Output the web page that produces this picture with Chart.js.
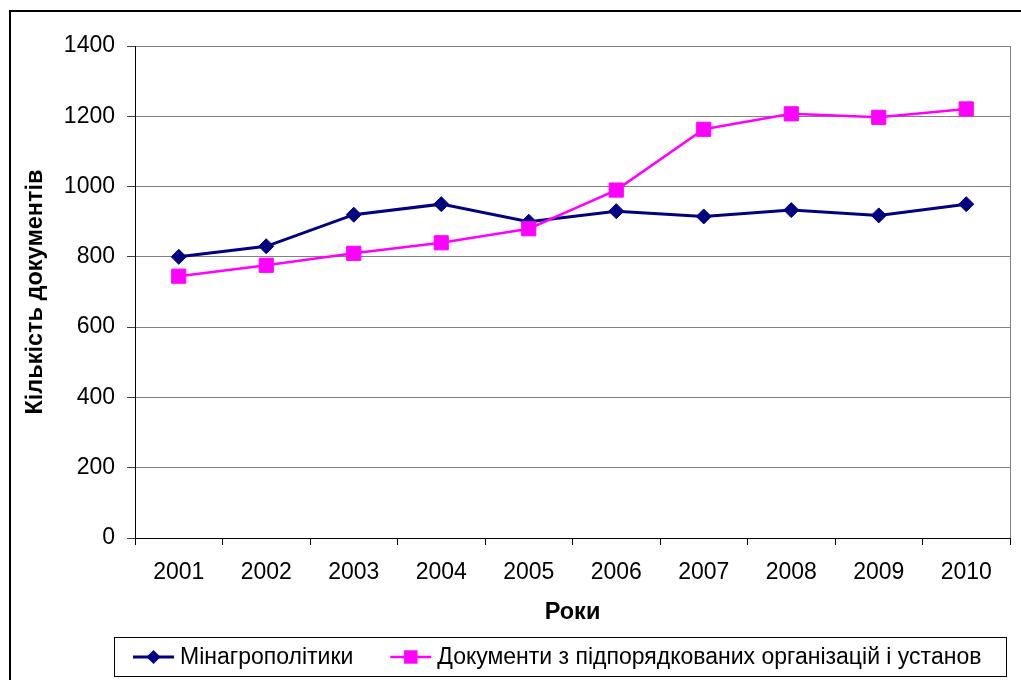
<!DOCTYPE html>
<html>
<head>
<meta charset="utf-8">
<script src="https://cdn.jsdelivr.net/npm/chart.js@4.4.1/dist/chart.umd.min.js"></script>
<style>
  html, body { margin: 0; padding: 0; background: #fff; }
  #wrap { width: 1021px; height: 680px; position: relative; }
</style>
</head>
<body>
<div id="wrap"><canvas id="c" width="1021" height="680"></canvas></div>
<script>
const years = ['2001', '2002', '2003', '2004', '2005', '2006', '2007', '2008', '2009', '2010'];
const minagroValues = [800, 830, 920, 950, 900, 930, 915, 933, 918, 950];
const pidporyadValues = [745, 776, 810, 840, 880, 990, 1163, 1207, 1197, 1221];
const seriesNames = ['Мінагрополітики', 'Документи з підпорядкованих організацій і установ'];
const yTitle = 'Кількість документів';
const xTitle = 'Роки';

const FONT = '"Liberation Sans", Arial, sans-serif';

const frameAndBorder = {
  id: 'frameAndBorder',
  beforeDraw(chart) {
    const ctx = chart.ctx;
    ctx.save();
    ctx.fillStyle = '#fff';
    ctx.fillRect(0, 0, chart.width, chart.height);
    ctx.strokeStyle = '#000';
    ctx.lineWidth = 2;
    ctx.strokeRect(10, 11, 1100, 1000);
    ctx.restore();
  },
  beforeDatasetsDraw(chart) {
    const {ctx, chartArea} = chart;
    ctx.save();
    ctx.strokeStyle = '#808080';
    ctx.lineWidth = 1;
    ctx.beginPath();
    ctx.moveTo(Math.round(chartArea.right) + 0.5, chartArea.top);
    ctx.lineTo(Math.round(chartArea.right) + 0.5, chartArea.bottom);
    ctx.stroke();
    ctx.restore();
  }
};

const boxLegend = {
  id: 'boxLegend',
  afterDraw(chart) {
    const ctx = chart.ctx;
    ctx.save();
    ctx.strokeStyle = '#000';
    ctx.lineWidth = 1;
    ctx.strokeRect(114.5, 637.5, 892, 39);
    const cy = 657;
    ctx.font = '23px ' + FONT;
    ctx.textBaseline = 'middle';
    let x = 133;
    chart.data.datasets.forEach((ds) => {
      const lineLen = 41;
      ctx.strokeStyle = ds.borderColor;
      ctx.lineWidth = ds.borderWidth;
      ctx.beginPath();
      ctx.moveTo(x, cy);
      ctx.lineTo(x + lineLen, cy);
      ctx.stroke();
      ctx.fillStyle = ds.borderColor;
      ctx.beginPath();
      const mx = x + lineLen / 2;
      if (ds.pointStyle === 'rectRot') {
        const r = ds.legendRadius;
        ctx.moveTo(mx - r, cy);
        ctx.lineTo(mx, cy - r);
        ctx.lineTo(mx + r, cy);
        ctx.lineTo(mx, cy + r);
        ctx.closePath();
      } else {
        const s = ds.legendRadius * Math.SQRT1_2;
        ctx.rect(mx - s, cy - s, 2 * s, 2 * s);
      }
      ctx.fill();
      ctx.fillStyle = '#000';
      const tx = x + lineLen + 6;
      ctx.fillText(ds.label, tx, cy + 1);
      x = tx + ctx.measureText(ds.label).width + 37;
    });
    ctx.restore();
  }
};

new Chart(document.getElementById('c'), {
  type: 'line',
  data: {
    labels: years,
    datasets: [
      {
        label: seriesNames[0],
        data: minagroValues,
        borderColor: '#000080',
        backgroundColor: '#000080',
        borderWidth: 3,
        pointStyle: 'rectRot',
        pointRadius: 7.5,
        pointHoverRadius: 7.5,
        pointBackgroundColor: '#000080',
        pointBorderColor: '#000080',
        pointBorderWidth: 1,
        legendRadius: 7,
        tension: 0,
        order: 1
      },
      {
        label: seriesNames[1],
        data: pidporyadValues,
        borderColor: '#FF00FF',
        backgroundColor: '#FF00FF',
        borderWidth: 2.5,
        pointStyle: 'rect',
        pointRadius: 10,
        pointHoverRadius: 10,
        pointBackgroundColor: '#FF00FF',
        pointBorderColor: '#FF00FF',
        pointBorderWidth: 1,
        legendRadius: 9.5,
        tension: 0,
        order: 0
      }
    ]
  },
  options: {
    responsive: false,
    animation: false,
    events: [],
    layout: { padding: { top: 46, right: 9, left: 0, bottom: 0 } },
    plugins: {
      legend: { display: false },
      tooltip: { enabled: false }
    },
    scales: {
      x: {
        offset: true,
        afterFit(scale) { scale.height = 142; },
        grid: {
          offset: true,
          drawOnChartArea: false,
          drawTicks: true,
          tickLength: 7,
          tickColor: '#000'
        },
        border: { color: '#000', width: 1 },
        ticks: {
          color: '#000',
          padding: 14,
          maxRotation: 0,
          autoSkip: false,
          font: { family: FONT, size: 23 }
        },
        title: {
          display: true,
          text: xTitle,
          color: '#000',
          padding: { top: 0, bottom: 53 },
          font: { family: FONT, size: 23.5, weight: 'bold' }
        }
      },
      y: {
        min: 0,
        max: 1400,
        afterFit(scale) { scale.width = 135; },
        grid: {
          color: '#808080',
          tickColor: '#404040',
          tickLength: 8,
          drawTicks: true
        },
        border: { color: '#000', width: 1 },
        ticks: {
          stepSize: 200,
          color: '#000',
          padding: 12,
          callback: (v) => String(v),
          font: { family: FONT, size: 23 }
        },
        title: {
          display: true,
          text: yTitle,
          color: '#000',
          padding: { top: 21, bottom: 0 },
          font: { family: FONT, size: 23.5, weight: 'bold' }
        }
      }
    }
  },
  plugins: [frameAndBorder, boxLegend]
});
</script>
</body>
</html>
